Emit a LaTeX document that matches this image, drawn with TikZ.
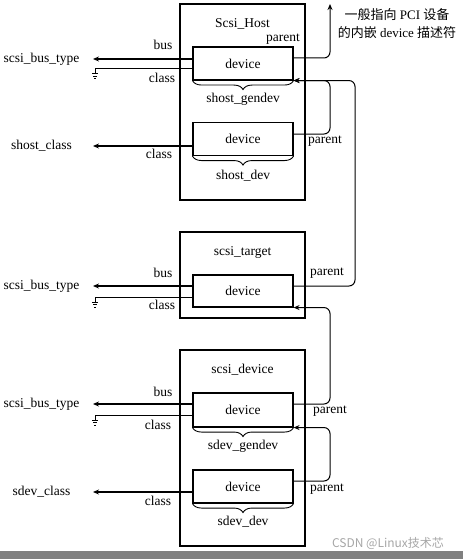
\documentclass[tikz,border=0pt]{standalone}
\usepackage{fontspec}
\setmainfont{Liberation Serif}
\newfontfamily\cjk{Noto Sans CJK SC}
\usetikzlibrary{positioning,arrows.meta,decorations.pathreplacing}

\begin{document}
\begin{tikzpicture}[x=1pt, y=-1pt,
	every node/.style = {font=\fontsize{13.5}{17}\selectfont, inner sep=1pt},
	outer/.style = {draw, line width=1.2pt, minimum width=125pt},
	dev/.style = {draw, line width=1.1pt, minimum width=100pt, minimum height=33pt},
	ext/.style = {text width=77pt, align=center, inner xsep=6pt, outer xsep=7pt},
	arr/.style = {line width=1.3pt, -{Stealth[length=6pt, width=5pt]}},
	par/.style = {line width=1pt, rounded corners=6pt, -{Stealth[length=6pt, width=5pt]}},
	cls/.style = {line width=1pt},
	brc/.style = {decorate, decoration={brace, mirror, amplitude=9pt}, line width=0.9pt},
	gnd/.pic = {\draw[line width=1pt] (0,0) -- (0,5) (-3,5) -- (3,5) (-2,7.5) -- (2,7.5) (-1,10) -- (1,10);}]
	
	\useasboundingbox (0,0) rectangle (463,559);
	
	\node[outer, minimum height=196pt] (host) at (242.5,102) {};
	\node (hostT) at (242.5,24) {Scsi\_Host};
	\node[dev] (hgen) at (243,63.5) {device};
	\node[dev] (hdev) at (243,139) {device};
	\draw[brc] (hgen.south west) -- (hgen.south east);
	\draw[brc] (hdev.south west) -- (hdev.south east);
	\node[below=11pt of hgen] (hgenL) {shost\_gendev};
	\node[below=13pt of hdev] (hdevL) {shost\_dev};
	
	\node[outer, minimum height=86pt] (target) at (242.5,275) {};
	\node (targetT) at (242.5,252) {scsi\_target};
	\node[dev, minimum height=32pt] (tgen) at (243,291) {device};
	
	\node[outer, minimum height=196pt] (sdevice) at (242.5,448) {};
	\node (sdeviceT) at (242.5,370) {scsi\_device};
	\node[dev, minimum height=34pt] (sgen) at (243,410) {device};
	\node[dev] (sdev) at (243,486.5) {device};
	\draw[brc] (sgen.south west) -- (sgen.south east);
	\draw[brc] (sdev.south west) -- (sdev.south east);
	\node[below=11pt of sgen] (sgenL) {sdev\_gendev};
	\node[below=11pt of sdev] (sdevL) {sdev\_dev};
	
	\node[ext] (hbus) at (41.5,59) {scsi\_bus\_type};
	\node[ext] (hcls) at (41.5,146) {shost\_class};
	\node[ext] (tbus) at (41.5,286) {scsi\_bus\_type};
	\node[ext] (sbus) at (41.5,404) {scsi\_bus\_type};
	\node[ext] (scls) at (41.5,492) {sdev\_class};
	\coordinate (hgnd) at (95,69);
	\coordinate (tgnd) at (95,297);
	\coordinate (sgnd) at (95,415);
	
	\draw[arr] (hgen.west |- hbus) -- (hbus);
	\draw[arr] (hdev.west |- hcls) -- (hcls);
	\draw[arr] (tgen.west |- tbus) -- (tbus);
	\draw[arr] (sgen.west |- sbus) -- (sbus);
	\draw[arr] (sdev.west |- scls) -- (scls);
	\draw[cls] (hgen.west |- hgnd) -- (hgnd);
	\draw[cls] (tgen.west |- tgnd) -- (tgnd);
	\draw[cls] (sgen.west |- sgnd) -- (sgnd);
	\pic at (hgnd) {gnd};
	\pic at (tgnd) {gnd};
	\pic at (sgnd) {gnd};
	
	\node (hbusL) at (163,45) {bus};
	\node (hclsL) at (162,78) {class};
	\node (hparL) at (283,39) {parent};
	\node (hdclsL) at (159,154) {class};
	\node (hdparL) at (325,141) {parent};
	\node (tbusL) at (163,273) {bus};
	\node (tclsL) at (162,305) {class};
	\node (tparL) at (327,273) {parent};
	\node (sbusL) at (163,392) {bus};
	\node (sclsL) at (158,425) {class};
	\node (sparL) at (330,411) {parent};
	\node (sdclsL) at (158,501) {class};
	\node (sdparL) at (327,489) {parent};
	
	\coordinate (railA) at (330,0);
	\coordinate (railB) at (355,0);
	\coordinate (pci) at (330,4);
	\draw[par] ([yshift=5.5pt]hgen.east) -| (pci);
	\draw[par] ([yshift=5pt]hdev.east) -| (railA |- hgen.south east) -- (hgen.south east);
	\draw[par] ([yshift=5pt]tgen.east) -| (railB |- hgen.south east) -- (hgen.south east);
	\draw[par] ([yshift=6pt]sgen.east) -| (railA |- tgen.south east) -- (tgen.south east);
	\draw[par] ([yshift=5.5pt]sdev.east) -| (railA |- sgen.south east) -- (sgen.south east);
	
	\node[align=center, font=\fontsize{13}{18}\selectfont] (pciL) at (397,24) {{\cjk 一般指向} PCI {\cjk 设备}\\{\cjk 的内嵌} device {\cjk 描述符}};
	
	\fill[gray] (0,551) rectangle (463,559);
	\node[font=\cjk\fontsize{12}{14}\selectfont, text=gray!70] (mark) at (388,543) {CSDN @Linux技术芯};
\end{tikzpicture}
\end{document}
